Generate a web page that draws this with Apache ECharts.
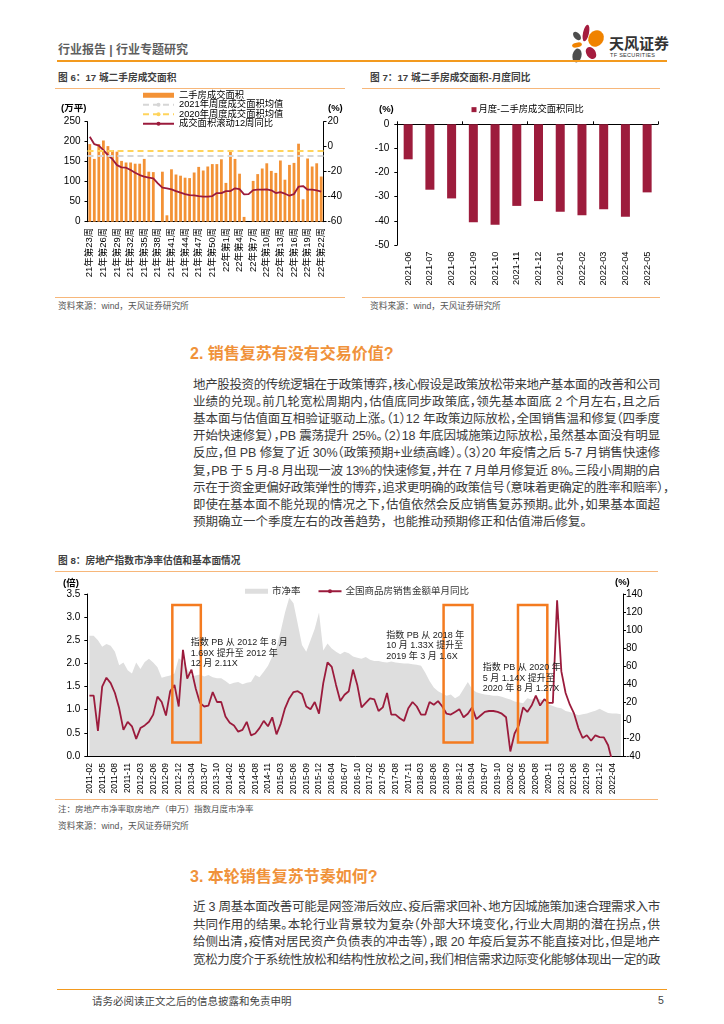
<!DOCTYPE html>
<html><head><meta charset="utf-8">
<script src="https://cdn.jsdelivr.net/npm/echarts@6/dist/echarts.min.js"></script>
<style>
html,body{margin:0;padding:0;}
body{width:724px;height:1024px;position:relative;overflow:hidden;background:#fff;font-family:"Liberation Sans","Noto Sans CJK SC",sans-serif;}
.a{position:absolute;white-space:nowrap;}
.hl{position:absolute;height:1.6px;background:#F39A1E;}
.cl{position:absolute;height:1.2px;background:#F7B77A;}
.ttl{font-size:9.7px;font-weight:bold;color:#404040;line-height:12px;}
.src{font-size:8.7px;color:#555;line-height:11px;}
.h2{font-size:16px;font-weight:bold;color:#F0923A;line-height:20px;}
.ln{position:absolute;left:193px;width:467px;font-size:12.5px;line-height:17px;height:17px;color:#3b3b3b;white-space:nowrap;text-align:justify;text-align-last:justify;}
.ln.last{text-align-last:left;}
.ch{position:absolute;}
</style></head>
<body>
<!-- header -->
<div class="a" style="left:58px;top:43px;font-size:12px;line-height:14px;font-weight:bold;color:#5f5f5f;">行业报告 | 行业专题研究</div>
<svg class="a" style="left:565px;top:20px;" width="45" height="46" viewBox="565 20 45 46">
  <ellipse cx="586" cy="33" rx="3" ry="8.5" fill="#A51C3F" transform="rotate(12 586 33)"/>
  <ellipse cx="596" cy="38.5" rx="7.5" ry="8.5" fill="#F08300" transform="rotate(35 596 38.5)"/>
  <ellipse cx="577" cy="36" rx="3" ry="5" fill="#4D4D4D" transform="rotate(-40 577 36)"/>
  <ellipse cx="577" cy="45" rx="5" ry="2.4" fill="#F08300" transform="rotate(-12 577 45)"/>
  <ellipse cx="577" cy="55.5" rx="4.5" ry="7" fill="#4D4D4D" transform="rotate(12 577 55.5)"/>
  <ellipse cx="591" cy="53" rx="4.6" ry="6.5" fill="#A51C3F" transform="rotate(-35 591 53)"/>
</svg>
<div class="a" style="left:609px;top:34px;font-size:15px;line-height:18px;font-weight:bold;color:#333;font-family:'Noto Sans CJK SC';">天风证券</div>
<div class="a" style="left:610px;top:52px;font-size:5.5px;line-height:6px;color:#333;letter-spacing:0.3px;">TF SECURITIES</div>
<div class="hl" style="left:57px;top:60px;width:610px;"></div>

<!-- figure 6 -->
<div class="a ttl" style="left:58px;top:72px;">图 6：17 城二手房成交面积</div>
<div class="cl" style="left:55px;top:88px;width:290px;"></div>
<div id="c6" class="ch" style="left:55px;top:89px;width:290px;height:200px;"></div>
<div class="cl" style="left:55px;top:296.5px;width:290px;"></div>
<div class="a src" style="left:58px;top:300.5px;">资料来源：wind，天风证券研究所</div>

<!-- figure 7 -->
<div class="a ttl" style="left:370px;top:72px;">图 7：17 城二手房成交面积-月度同比</div>
<div class="cl" style="left:362px;top:88px;width:298px;"></div>
<div id="c7" class="ch" style="left:355px;top:89px;width:310px;height:200px;"></div>
<div class="cl" style="left:362px;top:296.5px;width:298px;"></div>
<div class="a src" style="left:370px;top:300.5px;">资料来源：wind，天风证券研究所</div>

<!-- section 2 -->
<div class="a h2" style="left:190px;top:344px;">2. 销售复苏有没有交易价值?</div>
<div class="ln" style="top:376.5px;">地产股投资的传统逻辑在于政策博弈，核心假设是政策放松带来地产基本面的改善和公司</div>
<div class="ln" style="top:393.7px;">业绩的兑现。前几轮宽松周期内，估值底同步政策底，领先基本面底 2 个月左右，且之后</div>
<div class="ln" style="top:410.9px;">基本面与估值面互相验证驱动上涨。（1）12 年政策边际放松，全国销售温和修复（四季度</div>
<div class="ln" style="top:428.1px;">开始快速修复），PB 震荡提升 25%。（2）18 年底因城施策边际放松，虽然基本面没有明显</div>
<div class="ln" style="top:445.3px;">反应，但 PB 修复了近 30%（政策预期+业绩高峰）。（3）20 年疫情之后 5-7 月销售快速修</div>
<div class="ln" style="top:462.5px;">复，PB 于 5 月-8 月出现一波 13%的快速修复，并在 7 月单月修复近 8%。三段小周期的启</div>
<div class="ln" style="top:479.7px;width:476px;">示在于资金更偏好政策弹性的博弈，追求更明确的政策信号（意味着更确定的胜率和赔率），</div>
<div class="ln" style="top:496.9px;">即使在基本面不能兑现的情况之下，估值依然会反应销售复苏预期。此外，如果基本面超</div>
<div class="ln last" style="top:514.1px;">预期确立一个季度左右的改善趋势，也能推动预期修正和估值滞后修复。</div>

<!-- figure 8 -->
<div class="a ttl" style="left:58px;top:555px;">图 8：房地产指数市净率估值和基本面情况</div>
<div class="cl" style="left:55px;top:571px;width:603px;"></div>
<div id="c8" class="ch" style="left:55px;top:572px;width:610px;height:227px;"></div>
<div class="cl" style="left:55px;top:798.5px;width:603px;"></div>
<div class="a src" style="left:58px;top:803.5px;font-size:8.5px;">注：房地产市净率取房地产（申万）指数月度市净率</div>
<div class="a src" style="left:58px;top:820.5px;">资料来源：wind，天风证券研究所</div>

<!-- section 3 -->
<div class="a h2" style="left:190px;top:867px;">3. 本轮销售复苏节奏如何?</div>
<div class="ln" style="top:899px;">近 3 周基本面改善可能是网签滞后效应、疫后需求回补、地方因城施策加速合理需求入市</div>
<div class="ln" style="top:916.5px;">共同作用的结果。本轮行业背景较为复杂（外部大环境变化，行业大周期的潜在拐点，供</div>
<div class="ln" style="top:934px;">给侧出清，疫情对居民资产负债表的冲击等），跟 20 年疫后复苏不能直接对比，但是地产</div>
<div class="ln" style="top:951.5px;">宽松力度介于系统性放松和结构性放松之间，我们相信需求边际变化能够体现出一定的政</div>

<!-- footer -->
<div class="hl" style="left:57px;top:988.5px;width:610px;"></div>
<div class="a" style="left:92px;top:994px;font-size:10.5px;line-height:13px;color:#444;font-family:'Noto Sans CJK SC';">请务必阅读正文之后的信息披露和免责申明</div>
<div class="a" style="left:658px;top:994px;font-size:10.5px;line-height:13px;color:#444;">5</div>

<script>
// fit justified lines
document.querySelectorAll('.ln').forEach(function(el){
  function natural(){
    var s=document.createElement('span');
    s.textContent=el.textContent;
    s.style.cssText='position:absolute;visibility:hidden;white-space:nowrap;';
    el.appendChild(s); var w=s.getBoundingClientRect().width; el.removeChild(s); return w;
  }
  var target=el.clientWidth, w=natural();
  if(w>target-2){ el.style.fontFeatureSettings='"halt" 1'; w=natural(); }
  if(w>target-2){ el.style.letterSpacing=((target-2-w)/el.textContent.length)+'px'; }
});

const FONT='"Liberation Sans","Noto Sans CJK SC",sans-serif';

// ---------- Figure 6 data ----------
const weekCats=['21年第23周','21年第24周','21年第25周','21年第26周','21年第27周','21年第28周','21年第29周','21年第30周','21年第31周','21年第32周',
'21年第33周','21年第34周','21年第35周','21年第36周','21年第37周','21年第38周','21年第39周','21年第40周','21年第41周','21年第42周',
'21年第43周','21年第44周','21年第45周','21年第46周','21年第47周','21年第48周','21年第49周','21年第50周','21年第51周','21年第52周',
'22年第1周','22年第2周','22年第3周','22年第4周','22年第5周','22年第6周','22年第7周','22年第8周','22年第9周','22年第10周',
'22年第11周','22年第12周','22年第13周','22年第14周','22年第15周','22年第16周','22年第17周','22年第18周','22年第19周','22年第20周',
'22年第21周','22年第22周'];
const weeklyArea=[194,157,194,203,189,179,175,152,148,148,
145,145,157,125,124,null,125,16,131,118,
115,110,109,123,137,128,138,144,144,156,
97,177,157,120,12,null,102,119,133,146,
127,122,153,105,142,147,195,56,158,138,
146,113];
const rolling12Yoy=[8,2,0.8,-2.7,-6.7,-10,-14.7,-16.5,-16.8,-18.7,
-20.8,-22.7,-24,-24.8,-25.3,-29.3,-32.8,-33.3,-34.1,-35.5,
-36.8,-37.9,-38.7,-38.9,-39.5,-40,-40,-39.5,-37.1,-37.1,
-35.5,-35.5,-33.3,-33.9,-38.1,-37.9,-34.7,-34.4,-34.4,-34.1,
-34.9,-37.1,-36.3,-37.6,-39.2,-37.9,-32,-31.5,-34.4,-34.4,
-34.9,-36];
const avg2021Weekly=165;
const avg2020Weekly=177;

// ---------- Figure 7 data ----------
const monthCats7=['2021-06','2021-07','2021-08','2021-09','2021-10','2021-11','2021-12','2022-01','2022-02','2022-03','2022-04','2022-05'];
const monthlyYoy7=[-14.5,-27.1,-30.7,-40.6,-41.6,-33.8,-31.8,-36.2,-37.7,-35.2,-38.3,-28.2];

// ---------- Figure 8 data ----------
const monthCats8=[
'2011-02','2011-03','2011-04','2011-05','2011-06','2011-07','2011-08','2011-09','2011-10','2011-11','2011-12',
'2012-02','2012-03','2012-04','2012-05','2012-06','2012-07','2012-08','2012-09','2012-10','2012-11','2012-12',
'2013-02','2013-03','2013-04','2013-05','2013-06','2013-07','2013-08','2013-09','2013-10','2013-11','2013-12',
'2014-02','2014-03','2014-04','2014-05','2014-06','2014-07','2014-08','2014-09','2014-10','2014-11','2014-12',
'2015-02','2015-03','2015-04','2015-05','2015-06','2015-07','2015-08','2015-09','2015-10','2015-11','2015-12',
'2016-02','2016-03','2016-04','2016-05','2016-06','2016-07','2016-08','2016-09','2016-10','2016-11','2016-12',
'2017-02','2017-03','2017-04','2017-05','2017-06','2017-07','2017-08','2017-09','2017-10','2017-11','2017-12',
'2018-02','2018-03','2018-04','2018-05','2018-06','2018-07','2018-08','2018-09','2018-10','2018-11','2018-12',
'2019-02','2019-03','2019-04','2019-05','2019-06','2019-07','2019-08','2019-09','2019-10','2019-11','2019-12',
'2020-02','2020-03','2020-04','2020-05','2020-06','2020-07','2020-08','2020-09','2020-10','2020-11','2020-12',
'2021-02','2021-03','2021-04','2021-05','2021-06','2021-07','2021-08','2021-09','2021-10','2021-11','2021-12',
'2022-02','2022-03','2022-04','2022-05','2022-06'];
const pbRatio=[2.60,2.60,2.50,2.36,2.42,2.38,2.25,1.96,2.02,1.85,
1.78,2.02,1.88,2.03,2.10,2.02,1.92,1.69,1.72,1.74,
1.78,2.11,2.05,1.88,1.72,1.74,1.76,1.72,1.75,1.70,
1.68,1.68,1.62,1.55,1.58,1.60,1.55,1.58,1.60,1.75,
1.70,1.82,1.95,2.15,2.35,2.70,3.10,3.42,3.30,2.85,
2.40,2.25,2.50,2.75,3.10,2.28,2.43,2.32,2.25,2.20,
2.25,2.22,2.15,2.12,2.10,2.14,2.08,2.05,2.05,2.03,
2.02,2.04,2.02,2.01,2.00,2.00,1.98,1.97,1.95,1.80,
1.62,1.48,1.40,1.35,1.30,1.33,1.25,1.30,1.45,1.60,
1.45,1.38,1.35,1.33,1.32,1.30,1.30,1.28,1.25,1.22,
1.18,1.16,1.14,1.25,1.22,1.27,1.22,1.20,1.12,1.08,
1.05,1.03,0.97,0.95,0.92,0.88,0.90,0.92,0.95,0.98,
1.02,0.97,0.93,0.92,0.92,0.90];
const salesYoy=[27,27,-12,37,47,41,30,13,-11,-2,
-7,-21,-9,-6,-2,6,26,20,5,32,
39,15,78,46,56,35,19,15,16,31,
20,20,4,-3,-6,-13,-11,-2,-17,-15,
-9,-1,-7,3,-16,-4,13,24,31,32,
29,15,12,20,7,41,64,59,39,21,
28,32,56,39,14,19,24,23,10,14,
30,6,6,2,-1,13,20,15,6,6,
20,17,21,15,7,6,9,12,3,7,
14,1,5,9,10,10,9,7,3,-35,
-15,-6,14,9,16,27,16,23,19,19,
133,54,30,17,7,-9,-20,-17,-23,-17,
-19,-19.3,-28,-46.6];

// annotation boxes (category index range, left-axis value range) and notes
const boxSpec=[
 {from:19.5,to:26.2,top:3.26,bottom:0.29,note:{x:23.85,y:2.56,text:'指数 PB 从 2012 年 8 月\n1.69X 提升至 2012 年\n12 月 2.11X'}},
 {from:83.3,to:90.1,top:3.26,bottom:0.29,note:{x:69.8,y:2.72,text:'指数 PB 从 2018 年\n10 月 1.33X 提升至\n2019 年 3 月 1.6X'}},
 {from:100.8,to:107.7,top:3.26,bottom:0.29,note:{x:92.5,y:2.02,text:'指数 PB 从 2020 年\n5 月 1.14X 提升至\n2020 年 8 月 1.27X'}}
];

const AX={color:'#000',width:1};

// ---------- Chart 6 ----------
const c6=echarts.init(document.getElementById('c6'),null,{renderer:'canvas'});
c6.setOption({
  animation:false,
  textStyle:{fontFamily:FONT},
  legend:{orient:'vertical',left:87,top:1.5,padding:0,itemGap:0,itemWidth:31,itemHeight:5,
    textStyle:{fontSize:9.3,color:'#000',lineHeight:9.5,fontFamily:FONT},
    data:[{name:'二手房成交面积',icon:'rect'},{name:'2021年周度成交面积均值'},{name:'2020年周度成交面积均值'},{name:'成交面积滚动12周同比'}]},
  grid:{left:32.5,right:21.5,top:32.7,bottom:67.3,outerBoundsMode:'none',containLabel:false},
  graphic:[
    {type:'text',left:6,top:15,style:{text:'(万平)',font:'bold 9.5px '+FONT,fill:'#000'}},
    {type:'text',left:273,top:15,style:{text:'(%)',font:'bold 9.5px '+FONT,fill:'#000'}}
  ],
  xAxis:{type:'category',data:weekCats,boundaryGap:true,
    axisLine:{lineStyle:AX},axisTick:{show:false},
    axisLabel:{rotate:90,interval:2,fontSize:9.5,color:'#000',margin:6,fontFamily:FONT},splitLine:{show:false}},
  yAxis:[
    {type:'value',min:0,max:250,interval:50,axisLine:{show:true,lineStyle:AX},axisTick:{show:true,length:3,lineStyle:AX},
     axisLabel:{fontSize:10,color:'#000',margin:7},splitLine:{show:false}},
    {type:'value',min:-60,max:20,interval:20,position:'right',axisLine:{show:true,lineStyle:AX},axisTick:{show:true,length:3,lineStyle:AX},
     axisLabel:{fontSize:10,color:'#000',margin:4},splitLine:{show:false}}
  ],
  series:[
    {name:'二手房成交面积',type:'bar',data:weeklyArea,barWidth:2.8,itemStyle:{color:'#F39236'},z:2},
    {name:'2021年周度成交面积均值',type:'line',data:[],symbol:'none',itemStyle:{color:'#D6D6D6'},
     lineStyle:{color:'#D6D6D6',width:2,type:[6,4]},
     markLine:{silent:true,symbol:'none',label:{show:false},lineStyle:{color:'#D6D6D6',width:2,type:[6,4]},data:[{yAxis:avg2021Weekly}]},z:3},
    {name:'2020年周度成交面积均值',type:'line',data:[],symbol:'none',itemStyle:{color:'#FFD45C'},
     lineStyle:{color:'#FFD45C',width:2,type:[6,4]},
     markLine:{silent:true,symbol:'none',label:{show:false},lineStyle:{color:'#FFD45C',width:2,type:[6,4]},data:[{yAxis:avg2020Weekly}]},z:3},
    {name:'成交面积滚动12周同比',type:'line',yAxisIndex:1,data:rolling12Yoy,symbol:'none',
     itemStyle:{color:'#9B1B3C'},lineStyle:{color:'#9B1B3C',width:1.8},z:4}
  ]
});

// ---------- Chart 7 ----------
const c7=echarts.init(document.getElementById('c7'));
c7.setOption({
  animation:false,
  textStyle:{fontFamily:FONT},
  legend:{left:116.5,top:16,padding:0,itemWidth:5,itemHeight:5,itemGap:10,
    textStyle:{fontSize:9.3,color:'#000',padding:[0,0,0,-3],fontFamily:FONT},
    data:[{name:'月度-二手房成交面积同比',icon:'rect'}]},
  grid:{left:42.3,right:7,top:35.3,bottom:44,outerBoundsMode:'none',containLabel:false},
  graphic:[{type:'text',left:24,top:16,style:{text:'(%)',font:'bold 9.5px '+FONT,fill:'#000'}}],
  xAxis:[
    {type:'category',data:monthCats7,position:'top',axisLine:{onZero:false,lineStyle:AX},
     axisTick:{show:true,length:3,lineStyle:AX},axisLabel:{show:false},splitLine:{show:false}},
    {type:'category',data:monthCats7,position:'bottom',axisLine:{show:false},axisTick:{show:false},
     axisLabel:{rotate:90,interval:0,fontSize:9.3,color:'#000',margin:6.5},splitLine:{show:false}}
  ],
  yAxis:{type:'value',min:-50,max:0,interval:10,axisLine:{show:true,lineStyle:AX},
    axisTick:{show:true,length:3,lineStyle:AX},axisLabel:{fontSize:10,color:'#000',margin:8},splitLine:{show:false}},
  series:[{name:'月度-二手房成交面积同比',type:'bar',xAxisIndex:0,data:monthlyYoy7,barWidth:9,itemStyle:{color:'#9D1C3C'}}]
});

// ---------- Chart 8 ----------
const c8=echarts.init(document.getElementById('c8'));
c8.setOption({
  animation:false,
  textStyle:{fontFamily:FONT},
  legend:{left:190,top:14.5,padding:0,itemGap:17,itemWidth:23,itemHeight:5,
    textStyle:{fontSize:9.5,color:'#333',padding:[0,0,0,-1],fontFamily:FONT},
    data:[{name:'市净率',icon:'rect'},{name:'全国商品房销售金额单月同比'}]},
  grid:{left:32.3,right:42,top:22,bottom:43,outerBoundsMode:'none',containLabel:false},
  graphic:[
    {type:'text',left:8,top:7,style:{text:'(倍)',font:'bold 9.5px '+FONT,fill:'#000'}},
    {type:'text',left:560,top:6,style:{text:'(%)',font:'bold 9.5px '+FONT,fill:'#000'}}
  ],
  xAxis:{type:'category',data:monthCats8,boundaryGap:true,axisLine:{lineStyle:AX},axisTick:{show:false},
    axisLabel:{rotate:90,interval:2,fontSize:8.5,color:'#000',margin:7},splitLine:{show:false}},
  yAxis:[
    {type:'value',min:0,max:3.5,interval:0.5,axisLine:{show:true,lineStyle:AX},axisTick:{show:true,length:3,lineStyle:AX},
     axisLabel:{fontSize:10,color:'#000',margin:7,formatter:v=>v.toFixed(1)},splitLine:{show:false}},
    {type:'value',min:-40,max:140,interval:20,position:'right',axisLine:{show:true,lineStyle:AX},axisTick:{show:true,length:3,lineStyle:AX},
     axisLabel:{fontSize:10,color:'#000',margin:3},splitLine:{show:false}}
  ],
  series:[
    {name:'市净率',type:'line',data:pbRatio,symbol:'none',itemStyle:{color:'#DEDEDE'},
     lineStyle:{width:0,color:'#DEDEDE'},areaStyle:{color:'#DEDEDE',opacity:1},z:1},
    {name:'annot',type:'custom',silent:true,clip:false,z:5,
     data:boxSpec.map((b,i)=>[0,0]),
     renderItem:function(params,api){
       const b=boxSpec[params.dataIndex];
       const bw=api.size([1,0])[0];
       const xAt=v=>{const k=Math.floor(v);return api.coord([k,0])[0]+(v-k)*bw;};
       const x0=xAt(b.from),x1=xAt(b.to);
       const y0=api.coord([0,b.top])[1],y1=api.coord([0,b.bottom])[1];
       return {type:'group',children:[
         {type:'rect',shape:{x:x0,y:y0,width:x1-x0,height:y1-y0},style:{fill:'none',stroke:'#F47B20',lineWidth:2.5}},
         {type:'text',x:xAt(b.note.x),y:api.coord([0,b.note.y])[1],
          style:{text:b.note.text,fill:'#222',font:'9px '+FONT,lineHeight:10.5,align:'left',verticalAlign:'top'}}
       ]};
     }},
    {name:'全国商品房销售金额单月同比',type:'line',yAxisIndex:1,data:salesYoy,symbol:'none',
     itemStyle:{color:'#9B1B3C'},lineStyle:{color:'#9B1B3C',width:1.8},z:3}
  ]
});
</script>
</body></html>
